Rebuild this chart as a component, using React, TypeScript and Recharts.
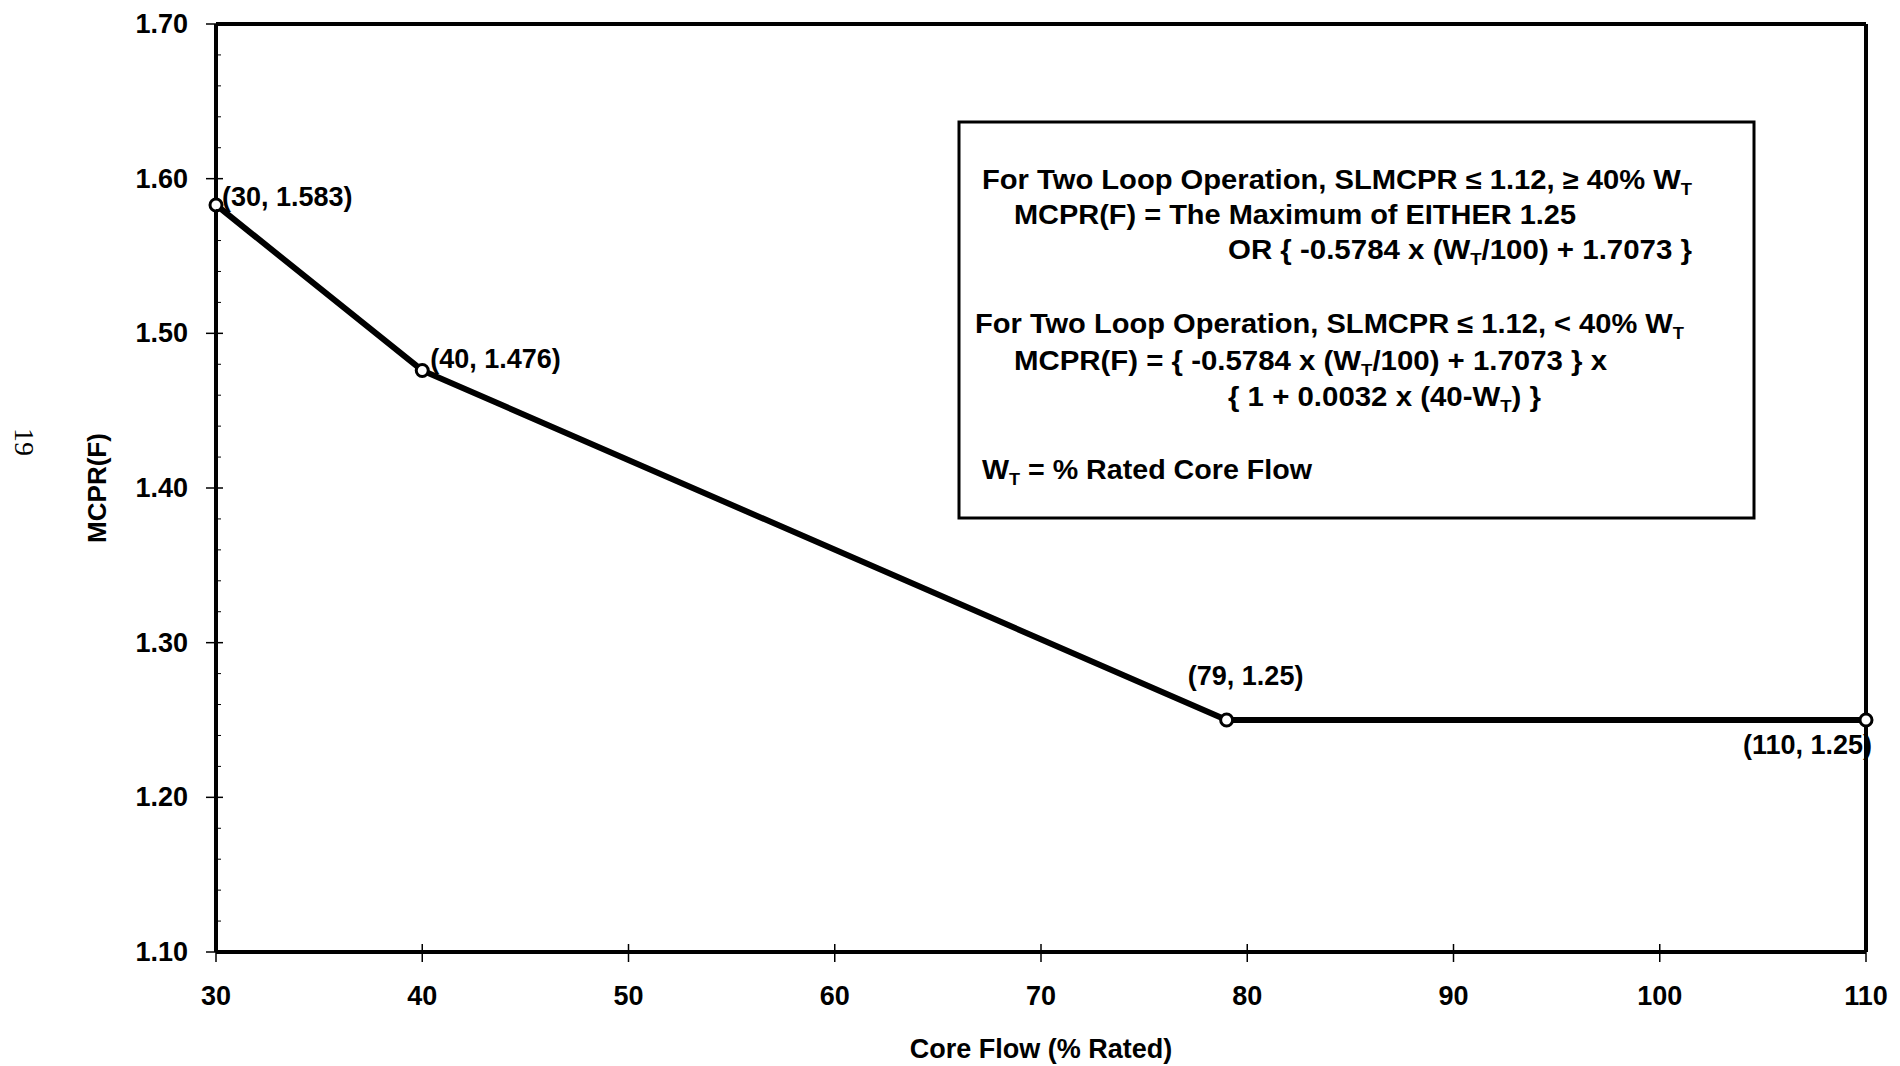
import React from 'react';
import { LineChart, Line, XAxis, YAxis, ReferenceLine } from 'recharts';

// core flow (% rated) vs MCPR(F) breakpoints
const flow = [30, 40, 79, 110];
const mcpr = [1.583, 1.476, 1.25, 1.25];

const xTicks = [30, 40, 50, 60, 70, 80, 90, 100, 110];
const yMajorTicks = [1.1, 1.2, 1.3, 1.4, 1.5, 1.6, 1.7];
const yMinorTicks = [
  1.12, 1.14, 1.16, 1.18, 1.22, 1.24, 1.26, 1.28, 1.32, 1.34, 1.36, 1.38,
  1.42, 1.44, 1.46, 1.48, 1.52, 1.54, 1.56, 1.58, 1.62, 1.64, 1.66, 1.68,
];

const noteLines = [
  'For Two Loop Operation, SLMCPR \u2264 1.12,  \u2265 40% W_T',
  'MCPR(F) = The Maximum of EITHER 1.25',
  'OR { -0.5784 x (W_T/100) + 1.7073 }',
  'For Two Loop Operation, SLMCPR \u2264 1.12,  < 40% W_T',
  'MCPR(F) = { -0.5784 x (W_T/100) + 1.7073 } x',
  '{ 1 + 0.0032 x (40-W_T) }',
  'W_T = % Rated Core Flow',
];

const data = flow.map((f, i) => ({ flow: f, mcpr: mcpr[i] }));

const FONT = '"Liberation Sans", Arial, Helvetica, sans-serif';

// layout of the note box lines: x, baseline, width
const noteLayout = [
  { x: 982, y: 189, w: 710 },
  { x: 1014, y: 224, w: 562 },
  { x: 1228, y: 259, w: 464 },
  { x: 975, y: 333, w: 709 },
  { x: 1014, y: 370, w: 593 },
  { x: 1228, y: 406, w: 313 },
  { x: 982, y: 479, w: 330 },
];

// where each point label sits relative to its point
const labelPlacement = [
  { dx: 6, dy: 1, anchor: 'start' },
  { dx: 8, dy: -2, anchor: 'start' },
  { dx: 19, dy: -35, anchor: 'middle' },
  { dx: 6, dy: 34, anchor: 'end' },
];

function withSubscript(str: string) {
  const parts = str.split('W_T');
  const out: React.ReactNode[] = [];
  parts.forEach((p, i) => {
    if (i > 0) {
      out.push(
        <tspan key={'t' + i} fontSize={17} dy={6}>
          T
        </tspan>
      );
      out.push(<tspan key={'p' + i} dy={-6}>{p}</tspan>);
    } else {
      out.push(<tspan key={'p' + i}>{p}</tspan>);
    }
    if (i < parts.length - 1) out.push(<tspan key={'w' + i}>W</tspan>);
  });
  return out;
}

const YTick = (props: any) => {
  const { x, y, payload } = props;
  const isMajor = yMajorTicks.some((t) => Math.abs(t - payload.value) < 1e-6);
  if (!isMajor) {
    return <line x1={x} x2={x + 5} y1={y} y2={y} stroke="#000" strokeWidth={1} />;
  }
  return (
    <g>
      <line x1={x - 10} x2={x + 7} y1={y} y2={y} stroke="#000" strokeWidth={1.5} />
      <text x={x - 28} y={y} dy={9} textAnchor="end" fontFamily={FONT} fontWeight="bold" fontSize={27} fill="#000">
        {payload.value.toFixed(2)}
      </text>
    </g>
  );
};

const XTick = (props: any) => {
  const { x, y, payload } = props;
  return (
    <g>
      <line x1={x} x2={x} y1={y - 8} y2={y + 10} stroke="#000" strokeWidth={1.5} />
      <text x={x} y={y} dy={53} textAnchor="middle" fontFamily={FONT} fontWeight="bold" fontSize={27} fill="#000">
        {payload.value}
      </text>
    </g>
  );
};

const PointLabel = (props: any) => {
  const { x, y, index } = props;
  const p = labelPlacement[index];
  return (
    <text x={x + p.dx} y={y + p.dy} textAnchor={p.anchor} fontFamily={FONT} fontWeight="bold" fontSize={27} fill="#000">
      {`(${flow[index]}, ${mcpr[index]})`}
    </text>
  );
};

export default function App() {
  return (
    <div style={{ position: 'absolute', left: 0, top: 0, width: 1900, height: 1066, background: '#fff' }}>
      <LineChart width={1900} height={1066} data={data} margin={{ top: 24, right: 34, bottom: 54, left: 66 }}>
        <XAxis
          dataKey="flow"
          type="number"
          domain={[30, 110]}
          ticks={xTicks}
          interval={0}
          height={60}
          tickSize={0}
          tickMargin={0}
          tickLine={false}
          tick={<XTick />}
          axisLine={{ stroke: '#000', strokeWidth: 4 }}
          label={{
            content: (p: any) => (
              <text
                x={p.viewBox.x + p.viewBox.width / 2}
                y={p.viewBox.y + 106}
                textAnchor="middle"
                fontFamily={FONT}
                fontWeight="bold"
                fontSize={27}
                fill="#000"
              >
                Core Flow (% Rated)
              </text>
            ),
          }}
        />
        <YAxis
          type="number"
          domain={[1.1, 1.7]}
          ticks={[...yMajorTicks, ...yMinorTicks]}
          interval={0}
          width={150}
          tickSize={0}
          tickMargin={0}
          tickLine={false}
          tick={<YTick />}
          axisLine={{ stroke: '#000', strokeWidth: 4 }}
          label={{
            content: (p: any) => (
              <text
                x={p.viewBox.x + 31}
                y={p.viewBox.y + p.viewBox.height / 2}
                transform={`rotate(-90, ${p.viewBox.x + 31}, ${p.viewBox.y + p.viewBox.height / 2})`}
                textAnchor="middle"
                dominantBaseline="central"
                fontFamily={FONT}
                fontWeight="bold"
                fontSize={26}
                fill="#000"
              >
                MCPR(F)
              </text>
            ),
          }}
        />
        <ReferenceLine y={1.7} stroke="#000" strokeWidth={4} />
        <ReferenceLine x={110} stroke="#000" strokeWidth={4} />
        <Line
          type="linear"
          dataKey="mcpr"
          stroke="#000"
          strokeWidth={6}
          dot={{ r: 6, fill: '#fff', stroke: '#000', strokeWidth: 3 }}
          activeDot={false}
          label={<PointLabel />}
          isAnimationActive={false}
        />
        <g>
          <rect x={959} y={122} width={795} height={396} fill="#fff" stroke="#000" strokeWidth={3} />
          {noteLines.map((line, i) => (
            <text
              key={i}
              x={noteLayout[i].x}
              y={noteLayout[i].y}
              textLength={noteLayout[i].w}
              lengthAdjust="spacingAndGlyphs"
              fontFamily={FONT}
              fontWeight="bold"
              fontSize={27}
              fill="#000"
            >
              {withSubscript(line)}
            </text>
          ))}
        </g>
        <text
          x={24}
          y={442}
          transform="rotate(90, 24, 442)"
          textAnchor="middle"
          dominantBaseline="central"
          fontFamily='"Liberation Serif", "Times New Roman", serif'
          fontSize={28}
          fill="#000"
        >
          19
        </text>
      </LineChart>
    </div>
  );
}
